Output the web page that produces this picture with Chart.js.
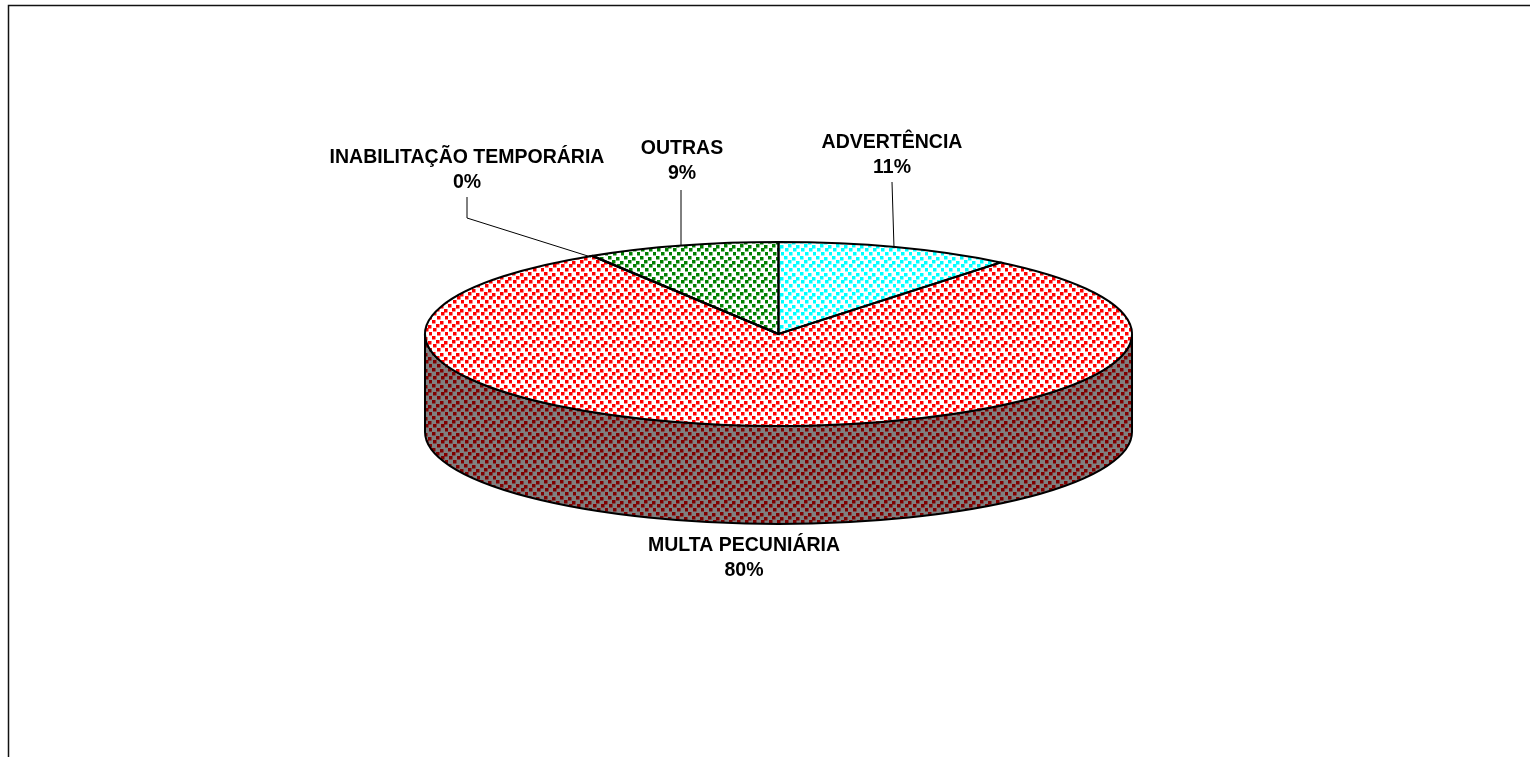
<!DOCTYPE html>
<html>
<head>
<meta charset="utf-8">
<title>Penalidades</title>
<script src="https://cdn.jsdelivr.net/npm/chart.js@4"></script>
<style>
  html,body{margin:0;padding:0;background:#fff;overflow:hidden;}
  canvas{display:block;}
</style>
</head>
<body>
<canvas id="pieChart" width="1530" height="757"></canvas>
<script>
// data
const categories=["ADVERTÊNCIA","MULTA PECUNIÁRIA","INABILITAÇÃO TEMPORÁRIA","OUTRAS"];
const values=[10.8,80.3,0.05,8.8];
const dotColors=["#00ffff","#ff0000","#ffff00","#008000"];

const squash=0.26;
const wallDepth=98;
const lift=19.5; // the flattened disc sits higher than the middle of the chart area

// label placement: centre x, first line y, leader points
const labelSpots=[
  {x:892,y:143,leader:[[892,182],[894,248]]},
  {x:744,y:546,leader:null},
  {x:467,y:158,leader:[[467,197],[467,218],[591,257]]},
  {x:682,y:149,leader:[[681,190],[681,245]]}
];

// small dot tile, same for every slice
function dotPattern(fg,bg){
  const tile=document.createElement("canvas");
  tile.width=16;
  tile.height=16;
  const t=tile.getContext("2d");
  t.fillStyle=bg;
  t.fillRect(0,0,16,16);
  t.fillStyle=fg;
  [[0,0],[8,1],[4,4],[12,5],[1,8],[9,8],[5,12],[13,12]].forEach(d=>t.fillRect(d[0],d[1],3.5,3.5));
  return document.querySelector("canvas").getContext("2d").createPattern(tile,"repeat");
}

const topPatterns=dotColors.map(c=>dotPattern(c,"#ffffff"));
const wallPattern=dotPattern("#800000","#808080");

const pie3d={
  id:"pie3d",
  beforeDatasetsDraw(chart){
    const ctx=chart.ctx;
    const arcs=chart.getDatasetMeta(0).data;

    // side wall, only the front half of the disc shows
    arcs.forEach(arc=>{
      const a=Math.max(arc.startAngle,0);
      const b=Math.min(arc.endAngle,Math.PI);
      if(b<=a) return;
      const r=arc.outerRadius;
      const y=arc.y-lift;
      ctx.beginPath();
      ctx.ellipse(arc.x,y,r,r*squash,0,a,b);
      ctx.ellipse(arc.x,y+wallDepth,r,r*squash,0,b,a,true);
      ctx.closePath();
      ctx.fillStyle=wallPattern;
      ctx.fill();
      ctx.lineWidth=2;
      ctx.strokeStyle="#000";
      ctx.stroke();
    });

    // flatten the pie, the pattern has to stay unsquashed
    const y0=arcs[0].y;
    const m=new DOMMatrix().translate(0,y0-lift).scale(1,squash).translate(0,-y0);
    topPatterns.forEach(p=>p.setTransform(m.inverse()));
    ctx.save();
    ctx.setTransform(ctx.getTransform().multiply(m));
  },
  afterDatasetsDraw(chart){
    const ctx=chart.ctx;
    const arcs=chart.getDatasetMeta(0).data;
    ctx.restore();

    // outlines after the restore so the stroke keeps its width
    arcs.forEach(arc=>{
      const r=arc.outerRadius;
      const y=arc.y-lift;
      ctx.beginPath();
      ctx.moveTo(arc.x,y);
      ctx.ellipse(arc.x,y,r,r*squash,0,arc.startAngle,arc.endAngle);
      ctx.closePath();
      ctx.lineWidth=2;
      ctx.strokeStyle="#000";
      ctx.stroke();
    });

    // labels and leader lines
    const total=values.reduce((s,v)=>s+v,0);
    ctx.textAlign="center";
    ctx.textBaseline="middle";
    ctx.fillStyle="#000";
    ctx.font='bold 19.5px "Liberation Sans"';
    categories.forEach((name,i)=>{
      const spot=labelSpots[i];
      ctx.fillText(name,spot.x,spot.y);
      ctx.fillText(Math.round(values[i]/total*100)+"%",spot.x,spot.y+25);
      if(spot.leader){
        ctx.beginPath();
        spot.leader.forEach((p,n)=>n?ctx.lineTo(p[0],p[1]):ctx.moveTo(p[0],p[1]));
        ctx.lineWidth=1;
        ctx.strokeStyle="#000";
        ctx.stroke();
      }
    });
  },
  beforeDraw(chart){
    // frame, right and bottom sides are cut off in the picture
    const ctx=chart.ctx;
    ctx.beginPath();
    ctx.moveTo(8.5,757);
    ctx.lineTo(8.5,5.5);
    ctx.lineTo(1530,5.5);
    ctx.lineWidth=1.5;
    ctx.strokeStyle="#111";
    ctx.stroke();
  }
};

new Chart(document.getElementById("pieChart"),{
  type:"pie",
  data:{
    labels:categories,
    datasets:[{
      data:values,
      backgroundColor:topPatterns,
      borderWidth:0
    }]
  },
  options:{
    responsive:false,
    animation:false,
    layout:{padding:{left:27,right:0,top:0,bottom:50}},
    plugins:{legend:{display:false},tooltip:{enabled:false}}
  },
  plugins:[pie3d]
});
</script>
</body>
</html>
